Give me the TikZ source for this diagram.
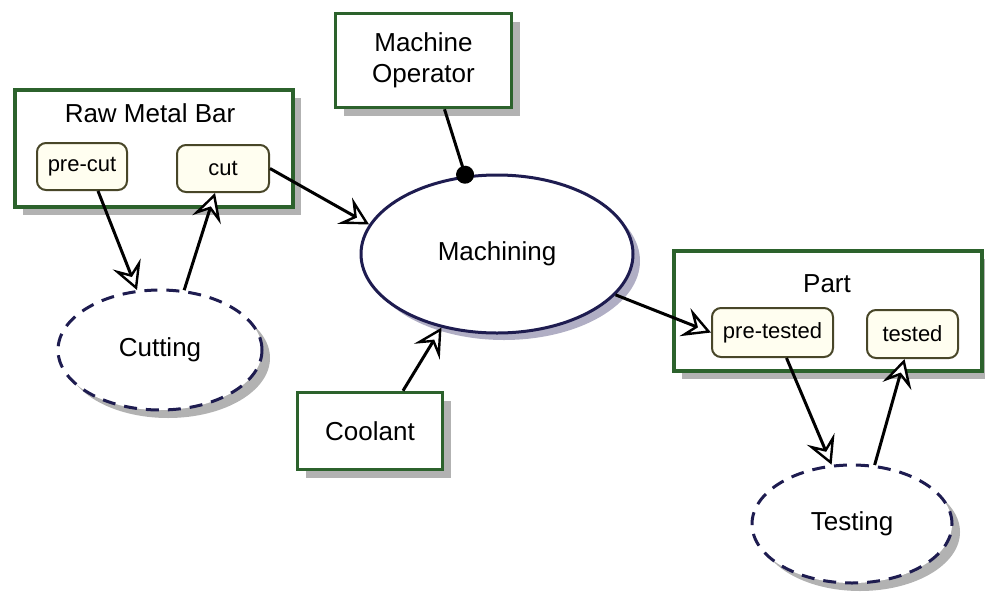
\documentclass[tikz,border=0pt]{standalone}
\usepackage{fontspec}
\setmainfont{Liberation Sans}
\usetikzlibrary{shapes.geometric,arrows.meta,shadows}

\definecolor{boxgreen}{RGB}{44,98,44}
\definecolor{statedge}{RGB}{72,70,40}
\definecolor{statefill}{RGB}{255,254,240}
\definecolor{procedge}{RGB}{30,28,80}
\definecolor{shadowgray}{RGB}{178,178,178}
\definecolor{shadowlav}{RGB}{176,174,196}

\tikzset{
  big/.style={font=\fontsize{26}{31}\selectfont},
  small/.style={font=\fontsize{22}{24}\selectfont},
  resource/.style={rectangle, draw=boxgreen, line width=3.5pt, fill=white,
    inner sep=0pt, big, align=center,
    general shadow={fill=shadowgray, shadow xshift=8pt, shadow yshift=-8pt}},
  statebox/.style={rectangle, rounded corners=9pt, draw=statedge, line width=2pt,
    fill=statefill, inner sep=0pt, small},
  process/.style={ellipse, draw=procedge, line width=3pt, fill=white,
    inner sep=0pt, big,
    general shadow={fill=shadowlav, shadow xshift=7pt, shadow yshift=-7pt}},
  subprocess/.style={ellipse, draw=procedge, line width=3pt, fill=white,
    dash pattern=on 13pt off 9pt, inner sep=0pt, big,
    general shadow={fill=shadowgray, shadow xshift=8pt, shadow yshift=-8pt}},
  flow/.style={line width=3pt, draw=black,
    -{Stealth[length=28pt, width=30pt, inset=11pt, open, fill=white, line width=2.4pt]}},
  agent/.style={line width=3pt, draw=black, -{Circle[length=18pt]}, shorten >=-8pt},
}

\begin{document}
\begin{tikzpicture}[x=1pt, y=-1pt]
\useasboundingbox (0,0) rectangle (985,592);

% resources and their states
\node[resource, minimum width=278pt, minimum height=117pt] (raw) at (154,148.5) {};
\node[big] (rawlabel) at (150,113) {Raw Metal Bar};
\node[statebox, minimum width=90pt, minimum height=47pt] (precut) at (82,166.5) {pre-cut};
\node[statebox, minimum width=92pt, minimum height=47pt] (cut) at (223,168.5) {cut};

\node[resource, minimum width=308pt, minimum height=120pt] (part) at (828,311) {};
\node[big] (partlabel) at (827,284) {Part};
\node[statebox, minimum width=121pt, minimum height=49pt] (pretested) at (772.5,332.5) {pre-tested};
\node[statebox, minimum width=91pt, minimum height=48pt] (tested) at (912.5,334) {tested};

\node[resource, minimum width=176pt, minimum height=94pt] (operator) at (423.5,60.5) {Machine\\Operator};
\node[resource, minimum width=145pt, minimum height=77pt] (coolant) at (370,431) {Coolant};

% processes
\node[process, minimum width=272pt, minimum height=158pt] (machining) at (497,254) {Machining};
\node[subprocess, minimum width=204pt, minimum height=120pt] (cutting) at (160,350) {Cutting};
\node[subprocess, minimum width=200pt, minimum height=118pt] (testing) at (852,524) {Testing};

% connectors
\draw[flow] ([xshift=16pt]precut.south) -- (cutting.111);
\draw[flow] (cutting.68) -- ([xshift=-8pt]cut.south);
\draw[flow] (cut.east) -- (machining.167);
\draw[agent] ([xshift=21pt]operator.south) -- (machining.112);
\draw[flow] ([xshift=33pt]coolant.north) -- (machining.233);
\draw[flow] (machining.341) -- (pretested.west);
\draw[flow] ([xshift=14pt]pretested.south) -- (testing.109);
\draw[flow] (testing.69) -- ([xshift=-8pt]tested.south);
\end{tikzpicture}
\end{document}
